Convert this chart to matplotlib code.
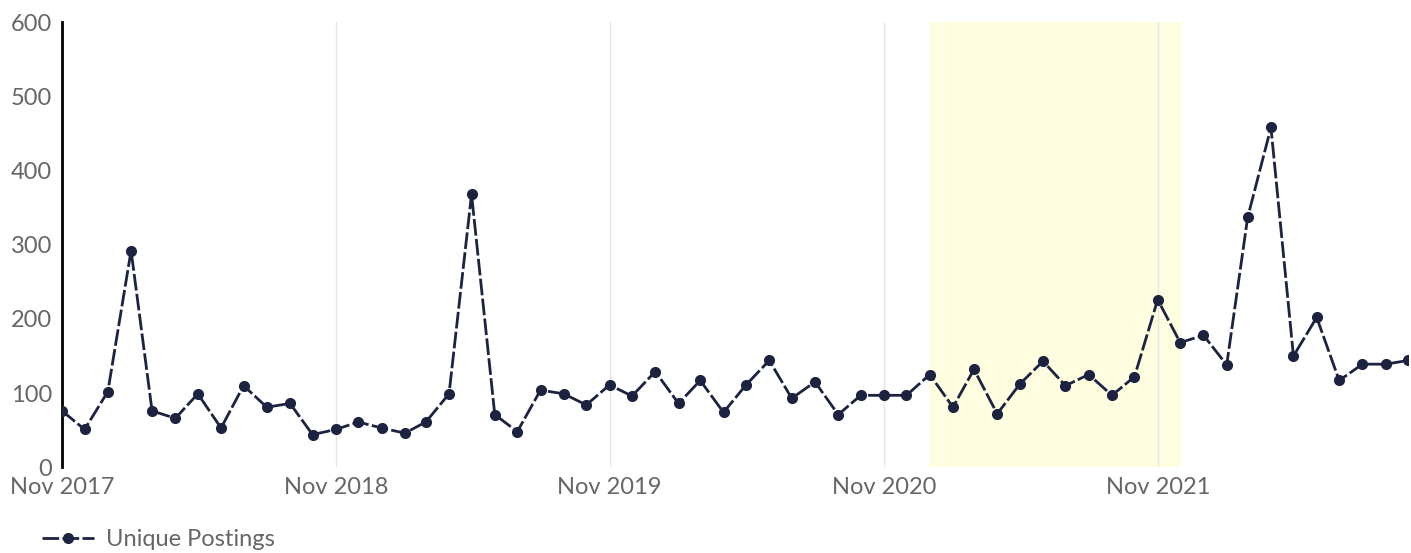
import pandas as pd
import matplotlib.pyplot as plt
import matplotlib.dates as mdates

# monthly unique postings, Nov 2017 - Oct 2022
months = pd.date_range("2017-11-01", "2022-10-01", freq="MS")
postings = [76, 51, 102, 292, 76, 66, 99, 53, 110, 81, 86, 44,
            51, 61, 53, 46, 61, 99, 368, 71, 48, 104, 99, 84,
            111, 96, 129, 86, 117, 74, 111, 144, 93, 115, 71, 97,
            97, 97, 125, 81, 132, 72, 112, 143, 110, 125, 97, 122,
            226, 168, 178, 138, 337, 458, 150, 202, 117, 139, 139, 144]
tick_dates = pd.to_datetime(["2017-11-01", "2018-11-01", "2019-11-01",
                             "2020-11-01", "2021-11-01"])
highlight = pd.to_datetime(["2021-01-01", "2021-12-01"])

plt.rcParams['font.family'] = ['Lato', 'DejaVu Sans']

fig = plt.figure(figsize=(14.11, 5.53), dpi=100)
ax = fig.add_axes([0.044, 0.155, 0.954, 0.805])

ax.axvspan(highlight[0], highlight[1], color='#fefde0', zorder=0)
for d in tick_dates[1:]:
    ax.axvline(d, color='#e6e6e6', lw=1, zorder=1)

line, = ax.plot(months, postings, color='#1b2341', lw=2, ls=(0, (6, 1.2)),
                marker='o', ms=7, zorder=3, label='Unique Postings')

ax.set_xlim(months[0], months[-1])
ax.set_ylim(0, 600)
ax.set_yticks(range(0, 601, 100))
ax.set_xticks(tick_dates)
ax.xaxis.set_major_formatter(mdates.DateFormatter('%b %Y'))

ax.tick_params(axis='both', length=0, labelsize=17, labelcolor='#666666')
ax.tick_params(axis='x', pad=7)
ax.tick_params(axis='y', pad=7)

for s in ['top', 'right', 'bottom']:
    ax.spines[s].set_visible(False)
ax.spines['left'].set_color('black')
ax.spines['left'].set_linewidth(2)

leg = fig.legend(handles=[line], loc='center left', bbox_to_anchor=(0.03, 0.024),
                 frameon=False, fontsize=17, handlelength=2.2, handletextpad=0.5,
                 borderpad=0, borderaxespad=0, labelcolor='#666666')

fig.savefig('out.png', dpi=100)
